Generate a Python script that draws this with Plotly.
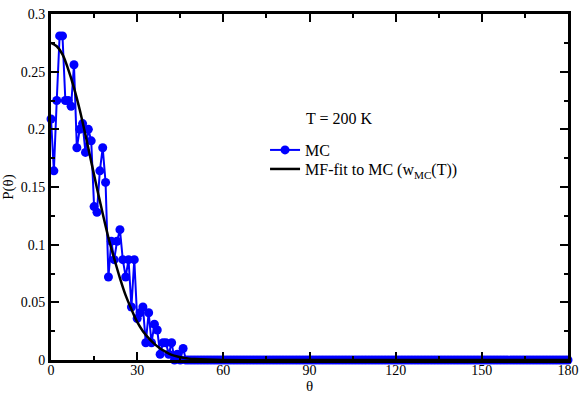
import plotly.graph_objects as go

# MC histogram P(theta), theta in degrees (1-degree bins)
mc_theta = list(range(0, 181))
mc_head = [0.209, 0.164, 0.225, 0.281, 0.281, 0.225, 0.225, 0.220, 0.256, 0.184,
           0.200, 0.205, 0.180, 0.200, 0.190, 0.133, 0.128, 0.164, 0.184, 0.154,
           0.072, 0.103, 0.087, 0.103, 0.113, 0.087, 0.072, 0.087, 0.046, 0.087,
           0.036, 0.041, 0.046, 0.015, 0.041, 0.015, 0.031, 0.026, 0.005, 0.015,
           0.015, 0.005, 0.015, 0.000, 0.005, 0.000, 0.010]
mc_p = mc_head + [0.0] * (181 - len(mc_head))

# MF fit curve
fit_theta = [0, 2, 4, 6, 8, 10, 12, 14, 16, 18, 20, 22, 24, 26, 28, 30, 32, 34,
             36, 38, 40, 42, 44, 46, 48, 50, 60, 90, 120, 150, 180]
fit_p = [0.275, 0.272, 0.265, 0.252, 0.236, 0.217, 0.195, 0.172, 0.149, 0.127,
         0.106, 0.088, 0.071, 0.056, 0.044, 0.033, 0.025, 0.019, 0.014, 0.010,
         0.007, 0.0045, 0.003, 0.002, 0.0012, 0.0008, 0.0, 0.0, 0.0, 0.0, 0.0]

x_ticks = [0, 30, 60, 90, 120, 150, 180]
y_ticks = [0, 0.05, 0.1, 0.15, 0.2, 0.25, 0.3]
y_ticklabels = ["0", "0.05", "0.1", "0.15", "0.2", "0.25", "0.3"]

font_family = "Liberation Serif"

fig = go.Figure()
fig.add_trace(go.Scatter(
    x=mc_theta, y=mc_p, mode="lines+markers", name="MC",
    line=dict(color="#0000ff", width=2),
    marker=dict(color="#0000ff", size=9, symbol="circle"),
    cliponaxis=False, legend="legend",
))
fig.add_trace(go.Scatter(
    x=fit_theta, y=fit_p, mode="lines", name="MF-fit to MC (w<sub>MC</sub>(T))",
    line=dict(color="black", width=2.5, shape="spline"),
    legend="legend2",
))

axis_common = dict(
    showline=True, linecolor="black", linewidth=3, mirror="ticks",
    ticks="inside", ticklen=8, tickwidth=2, tickcolor="black",
    showgrid=False, zeroline=False, automargin=False,
    tickfont=dict(family=font_family, size=14, color="black"),
)

fig.update_xaxes(
    range=[0, 180], tickvals=x_ticks, ticklabelstandoff=-5,
    minor=dict(ticks="inside", ticklen=4, tickwidth=2, dtick=15, tick0=0, tickcolor="black", showgrid=False),
    title=dict(text="θ", font=dict(family=font_family, size=15, color="black"), standoff=2),
    **axis_common,
)
fig.update_yaxes(
    range=[0, 0.3], tickvals=y_ticks, ticktext=y_ticklabels,
    minor=dict(ticks="inside", ticklen=4, tickwidth=2, dtick=0.025, tick0=0, tickcolor="black", showgrid=False),
    title=dict(text="P(θ)", font=dict(family=font_family, size=15, color="black"), standoff=4),
    **axis_common,
)

fig.add_annotation(
    x=0.489, y=0.699, xref="paper", yref="paper", text="T = 200 K",
    showarrow=False, xanchor="left", yanchor="middle",
    font=dict(family=font_family, size=16, color="black"),
)

legend_common = dict(
    xanchor="left", yanchor="top", bgcolor="rgba(0,0,0,0)", itemwidth=30,
    font=dict(family=font_family, size=16, color="black"),
)

fig.update_layout(
    width=581, height=394,
    margin=dict(l=51, r=13, t=14, b=34),
    paper_bgcolor="white", plot_bgcolor="white",
    font=dict(family=font_family, size=15, color="black"),
    legend=dict(x=0.414, y=0.656, **legend_common),
    legend2=dict(x=0.414, y=0.601, **legend_common),
    showlegend=True,
)

fig.write_html(
    "out.html",
    config={"displayModeBar": False},
    post_script="document.body.style.margin='0';document.body.style.padding='0';",
)
